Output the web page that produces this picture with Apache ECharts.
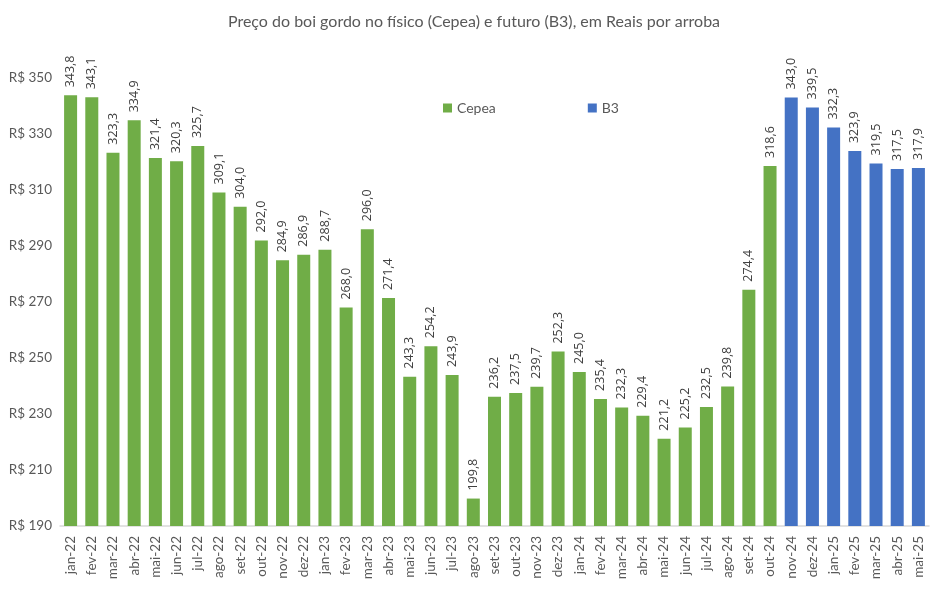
<!DOCTYPE html>
<html><head><meta charset="utf-8">
<script src="https://cdn.jsdelivr.net/npm/echarts@6/dist/echarts.min.js"></script>
<style>html,body{margin:0;padding:0;background:#fff}#c{width:948px;height:590px}</style>
</head><body><div id="c"></div>
<script>
const categories = ["jan-22","fev-22","mar-22","abr-22","mai-22","jun-22","jul-22","ago-22","set-22","out-22","nov-22","dez-22",
"jan-23","fev-23","mar-23","abr-23","mai-23","jun-23","jul-23","ago-23","set-23","out-23","nov-23","dez-23",
"jan-24","fev-24","mar-24","abr-24","mai-24","jun-24","jul-24","ago-24","set-24","out-24",
"nov-24","dez-24","jan-25","fev-25","mar-25","abr-25","mai-25"];
const cepea = [343.8,343.1,323.3,334.9,321.4,320.3,325.7,309.1,304.0,292.0,284.9,286.9,
288.7,268.0,296.0,271.4,243.3,254.2,243.9,199.8,236.2,237.5,239.7,252.3,
245.0,235.4,232.3,229.4,221.2,225.2,232.5,239.8,274.4,318.6];
const b3 = [343.0,339.5,332.3,323.9,319.5,317.5,317.9];
const yTicks = [190,210,230,250,270,290,310,330,350];

const cepeaData = categories.map((c,i)=> i < cepea.length ? cepea[i] : null);
const b3Data = categories.map((c,i)=> i >= cepea.length ? b3[i-cepea.length] : null);
const fmt = p => p.value == null ? '' : p.value.toFixed(1).replace('.', ',');
const lbl = {show:true, position:'top', rotate:90, align:'left', verticalAlign:'middle', distance:8,
  color:'#404040', fontFamily:'Open Sans', fontSize:12.5, formatter:fmt};

const chart = echarts.init(document.getElementById('c'), null, {renderer:'canvas'});
chart.setOption({
  animation:false,
  title:{text:'Preço do boi gordo no físico (Cepea) e futuro (B3), em Reais por arroba', left:'center', top:9,
    textStyle:{fontFamily:'Lato', fontSize:16, fontWeight:'normal', color:'#595959'}},
  legend:{top:96, left:438, itemGap:92, itemWidth:9, itemHeight:9, icon:'rect',
    textStyle:{fontFamily:'Lato', fontSize:14, color:'#595959'},
    data:['Cepea','B3']},
  grid:{left:60, right:19, top:78, bottom:64},
  xAxis:{type:'category', data:categories,
    axisLine:{lineStyle:{color:'#d9d9d9', width:1.5}}, axisTick:{show:false},
    axisLabel:{rotate:90, interval:0, fontFamily:'Lato', fontSize:13.5, color:'#595959', margin:10}},
  yAxis:{type:'value', min:190, max:350, interval:20, splitLine:{show:false},
    axisLine:{show:false}, axisTick:{show:false},
    axisLabel:{fontFamily:'Lato', fontSize:13.5, color:'#595959', margin:8,
      formatter: v => yTicks.includes(v) ? 'R$ ' + v : ''}},
  series:[
    {name:'Cepea', type:'bar', data:cepeaData, barWidth:13, barGap:'-100%', itemStyle:{color:'#70ad47'}, label:lbl},
    {name:'B3', type:'bar', data:b3Data, barWidth:13, itemStyle:{color:'#4472c4'}, label:lbl}
  ]
});
</script></body></html>
